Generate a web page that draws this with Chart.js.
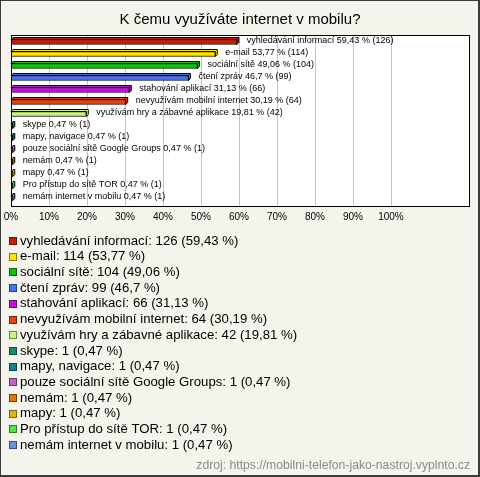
<!DOCTYPE html>
<html>
<head>
<meta charset="utf-8">
<script src="https://cdn.jsdelivr.net/npm/chart.js@4.4.1/dist/chart.umd.min.js"></script>
<style>
  html, body { margin: 0; padding: 0; background: #f4f4ec; }
  canvas { display: block; }
</style>
</head>
<body>
<canvas id="chart" width="480" height="477"></canvas>
<script>
const title = 'K čemu využíváte internet v mobilu?'
const source = 'zdroj: https://mobilni-telefon-jako-nastroj.vyplnto.cz'

const labels = [
  'vyhledávání informací',
  'e-mail',
  'sociální sítě',
  'čtení zpráv',
  'stahování aplikací',
  'nevyužívám mobilní internet',
  'využívám hry a zábavné aplikace',
  'skype',
  'mapy, navigace',
  'pouze sociální sítě Google Groups',
  'nemám',
  'mapy',
  'Pro přístup do sítě TOR',
  'nemám internet v mobilu',
]
const counts = [126, 114, 104, 99, 66, 64, 42, 1, 1, 1, 1, 1, 1, 1]
const percents = [59.43, 53.77, 49.06, 46.7, 31.13, 30.19, 19.81, 0.47, 0.47, 0.47, 0.47, 0.47, 0.47, 0.47]
const colors = [
  '#c41c0a', '#ffe400', '#12c012', '#4a72e8', '#c012d8', '#e24212', '#c8f282',
  '#12905e', '#138292', '#c462c8', '#e27204', '#e6b60a', '#52e444', '#6a92e2',
]
const xTicks = [0, 10, 20, 30, 40, 50, 60, 70, 80, 90, 100]

const fmt = v => String(v).replace('.', ',')

// darker shade for box outlines
const darken = (hex, f = 0.55) => {
  const n = parseInt(hex.slice(1), 16)
  const r = Math.round(((n >> 16) & 255) * f)
  const g = Math.round(((n >> 8) & 255) * f)
  const b = Math.round((n & 255) * f)
  return `rgb(${r},${g},${b})`
}

const FRAME = { left: 11, top: 35, right: 470, bottom: 207 }
const DEPTH = 2

const decorations = {
  id: 'decorations',
  beforeDraw(chart) {
    const { ctx } = chart
    ctx.save()
    ctx.fillStyle = '#3a3a3a'
    ctx.fillRect(0, 0, 480, 477)
    ctx.fillStyle = '#f4f4ec'
    ctx.fillRect(1, 1, 477, 474)
    ctx.fillStyle = '#ffffff'
    ctx.fillRect(FRAME.left, FRAME.top, FRAME.right - FRAME.left, FRAME.bottom - FRAME.top)

    // title
    ctx.fillStyle = '#000'
    ctx.font = '15px "Liberation Sans", Arial, sans-serif'
    ctx.textAlign = 'center'
    ctx.textBaseline = 'middle'
    ctx.fillText(title, 240, 20)
    ctx.restore()
  },
  beforeDatasetsDraw(chart) {
    const { ctx, scales } = chart
    ctx.save()
    // grid lines only up to 100 %
    ctx.strokeStyle = '#c4c4c4'
    ctx.lineWidth = 1
    xTicks.forEach(v => {
      const px = Math.round(scales.x.getPixelForValue(v)) + 0.5
      ctx.beginPath()
      ctx.moveTo(px, FRAME.top)
      ctx.lineTo(px, FRAME.bottom)
      ctx.stroke()
    })
    // back faces of the 3d bars
    const meta = chart.getDatasetMeta(0)
    meta.data.forEach((bar, i) => {
      const { x, y, base, height } = bar.getProps(['x', 'y', 'base', 'height'])
      const top = y - height / 2
      const bot = y + height / 2
      ctx.fillStyle = colors[i]
      ctx.strokeStyle = '#000'
      ctx.beginPath()
      ctx.moveTo(base, top)
      ctx.lineTo(base + DEPTH, top - DEPTH)
      ctx.lineTo(x + DEPTH, top - DEPTH)
      ctx.lineTo(x + DEPTH, bot - DEPTH)
      ctx.lineTo(x, bot)
      ctx.lineTo(x, top)
      ctx.closePath()
      ctx.fill()
      ctx.stroke()
    })
    ctx.restore()
  },
  afterDatasetsDraw(chart) {
    const { ctx } = chart
    ctx.save()
    const meta = chart.getDatasetMeta(0)
    ctx.font = '9px "Liberation Sans", Arial, sans-serif'
    ctx.fillStyle = '#000'
    ctx.textAlign = 'left'
    ctx.textBaseline = 'middle'
    meta.data.forEach((bar, i) => {
      const { x, y } = bar.getProps(['x', 'y'])
      ctx.fillText(`${labels[i]} ${fmt(percents[i])} % (${counts[i]})`, x + 10, y - 1)
    })
    // plot frame
    ctx.strokeStyle = '#000'
    ctx.lineWidth = 1
    ctx.strokeRect(FRAME.left + 0.5, FRAME.top + 0.5, FRAME.right - FRAME.left - 1, FRAME.bottom - FRAME.top - 1)
    ctx.restore()
  },
  afterDraw(chart) {
    const { ctx } = chart
    ctx.save()
    // legend
    ctx.font = '13.2px "Liberation Sans", Arial, sans-serif'
    ctx.textBaseline = 'middle'
    ctx.textAlign = 'left'
    labels.forEach((name, i) => {
      const cy = 241 + i * 15.7
      const by = Math.round(cy - 4)
      ctx.fillStyle = colors[i]
      ctx.fillRect(9, by, 8, 8)
      ctx.strokeStyle = darken(colors[i])
      ctx.strokeRect(9.5, by + 0.5, 7, 7)
      ctx.fillStyle = '#000'
      ctx.fillText(`${name}: ${counts[i]} (${fmt(percents[i])} %)`, 20, cy)
    })
    // source
    ctx.font = '12.2px "Liberation Sans", Arial, sans-serif'
    ctx.fillStyle = '#8a8a8a'
    ctx.textAlign = 'right'
    ctx.fillText(source, 470, 466)
    ctx.restore()
  },
}

new Chart(document.getElementById('chart'), {
  type: 'bar',
  data: {
    labels,
    datasets: [
      {
        data: percents,
        backgroundColor: colors,
        borderColor: '#000',
        borderWidth: 1,
        borderSkipped: false,
        barThickness: 5,
      },
    ],
  },
  options: {
    indexAxis: 'y',
    responsive: false,
    animation: false,
    events: [],
    layout: { padding: { left: 11, right: 10, top: 36, bottom: 243 } },
    plugins: { legend: { display: false }, tooltip: { enabled: false }, title: { display: false } },
    scales: {
      x: {
        min: 0,
        max: 120.8,
        grid: { display: false },
        border: { display: false },
        afterFit: s => { s.height = 30 },
        afterBuildTicks: s => { s.ticks = xTicks.map(v => ({ value: v })) },
        ticks: {
          padding: -1,
          color: '#000',
          font: { family: '"Liberation Sans", Arial, sans-serif', size: 10 },
          callback: v => `${v}%`,
        },
      },
      y: { display: false, grid: { display: false } },
    },
  },
  plugins: [decorations],
})
</script>
</body>
</html>
